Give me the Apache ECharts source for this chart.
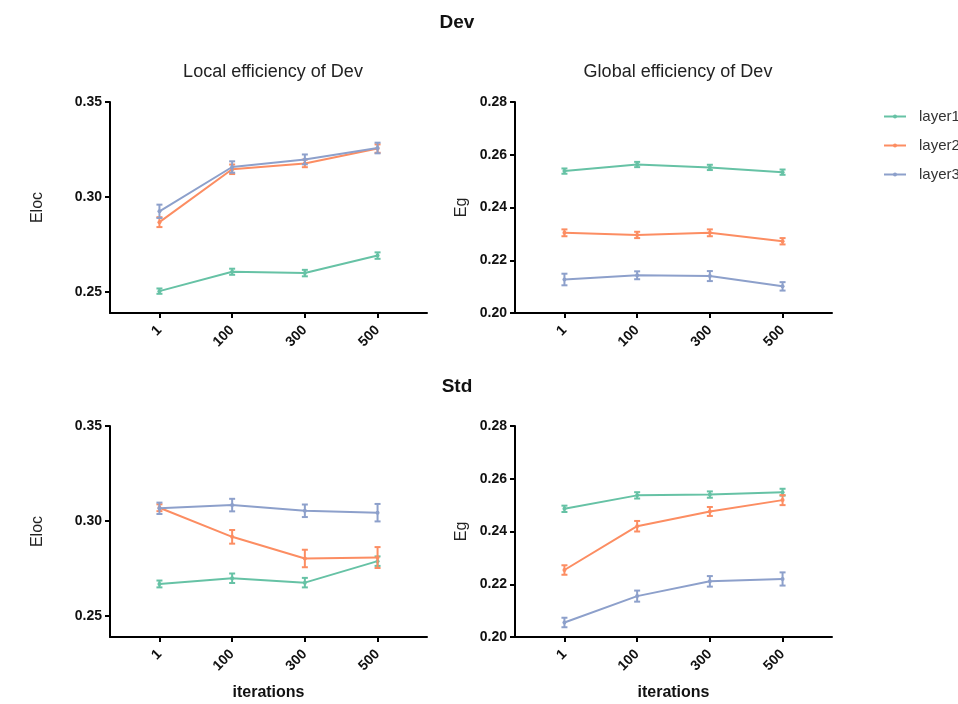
<!DOCTYPE html>
<html>
<head>
<meta charset="utf-8">
<script src="https://cdn.jsdelivr.net/npm/echarts@6/dist/echarts.min.js"></script>
<style>
  html, body { margin: 0; padding: 0; background: #ffffff; }
  #chart { width: 958px; height: 704px; }
</style>
</head>
<body>
<div id="chart"></div>
<script>
// Iteration checkpoints shown on every x axis
const iterations = ['1', '100', '300', '500'];
const layerNames = ['layer1', 'layer2', 'layer3'];
const layerColors = ['#66c2a5', '#fc8d62', '#8da0cb'];

// Dev – local efficiency (mean, error)
const devEloc1 = [0.2505, 0.2607, 0.2600, 0.2692];
const devEloc1Err = [0.0014, 0.0016, 0.0017, 0.0017];
const devEloc2 = [0.2868, 0.3146, 0.3177, 0.3255];
const devEloc2Err = [0.0026, 0.0025, 0.0020, 0.0022];
const devEloc3 = [0.2925, 0.3158, 0.3198, 0.3258];
const devEloc3Err = [0.0035, 0.0030, 0.0026, 0.0028];

// Dev – global efficiency
const devEg1 = [0.2538, 0.2563, 0.2552, 0.2534];
const devEg1Err = [0.0010, 0.0010, 0.0010, 0.0010];
const devEg2 = [0.2304, 0.2296, 0.2304, 0.2272];
const devEg2Err = [0.0013, 0.0012, 0.0013, 0.0012];
const devEg3 = [0.2127, 0.2143, 0.2140, 0.2101];
const devEg3Err = [0.0022, 0.0015, 0.0019, 0.0016];

// Std – local efficiency
const stdEloc1 = [0.2669, 0.2699, 0.2676, 0.2789];
const stdEloc1Err = [0.0018, 0.0025, 0.0025, 0.0025];
const stdEloc2 = [0.3070, 0.2917, 0.2803, 0.2808];
const stdEloc2Err = [0.0018, 0.0036, 0.0046, 0.0055];
const stdEloc3 = [0.3067, 0.3084, 0.3054, 0.3044];
const stdEloc3Err = [0.0030, 0.0033, 0.0033, 0.0046];

// Std – global efficiency
const stdEg1 = [0.2486, 0.2537, 0.2540, 0.2549];
const stdEg1Err = [0.0012, 0.0012, 0.0012, 0.0013];
const stdEg2 = [0.2254, 0.2420, 0.2476, 0.2519];
const stdEg2Err = [0.0018, 0.0020, 0.0017, 0.0019];
const stdEg3 = [0.2055, 0.2155, 0.2211, 0.2220];
const stdEg3Err = [0.0018, 0.0021, 0.0020, 0.0025];

// Y axis tick values
const elocTicks = [0.25, 0.30, 0.35];
const egTicks = [0.20, 0.22, 0.24, 0.26, 0.28];

const FONT = 'Liberation Sans, Arial, Helvetica, sans-serif';

const panels = [
  { means: [devEloc1, devEloc2, devEloc3], errs: [devEloc1Err, devEloc2Err, devEloc3Err],
    left: 110, top: 102, yName: 'Eloc', ticks: elocTicks, yMin: 0.239, yMax: 0.35, nameGap: 64, xName: '' },
  { means: [devEg1, devEg2, devEg3], errs: [devEg1Err, devEg2Err, devEg3Err],
    left: 515, top: 102, yName: 'Eg', ticks: egTicks, yMin: 0.20, yMax: 0.28, nameGap: 45, xName: '' },
  { means: [stdEloc1, stdEloc2, stdEloc3], errs: [stdEloc1Err, stdEloc2Err, stdEloc3Err],
    left: 110, top: 426, yName: 'Eloc', ticks: elocTicks, yMin: 0.239, yMax: 0.35, nameGap: 64, xName: 'iterations' },
  { means: [stdEg1, stdEg2, stdEg3], errs: [stdEg1Err, stdEg2Err, stdEg3Err],
    left: 515, top: 426, yName: 'Eg', ticks: egTicks, yMin: 0.20, yMax: 0.28, nameGap: 45, xName: 'iterations' }
];

const axisLine = { show: true, onZero: false, lineStyle: { color: '#000', width: 2 } };
const axisTick = { show: true, length: 5, lineStyle: { color: '#000', width: 2 } };

const grids = [], xAxes = [], yAxes = [], series = [];
const tickIdx = iterations.map((_, i) => i);

panels.forEach((p, k) => {
  grids.push({ left: p.left, top: p.top, width: 317, height: 211, containLabel: false });
  xAxes.push({
    type: 'value', gridIndex: k, min: -0.68, max: 3.68,
    axisLine, splitLine: { show: false },
    axisTick: Object.assign({ customValues: tickIdx }, axisTick),
    axisLabel: {
      customValues: tickIdx, rotate: 45, margin: 15,
      fontFamily: FONT, fontSize: 14, fontWeight: 'bold', color: '#111',
      formatter: v => iterations[Math.round(v)]
    },
    name: p.xName, nameLocation: 'middle', nameGap: 48,
    nameTextStyle: { fontFamily: FONT, fontSize: 16, fontWeight: 'bold', color: '#111' }
  });
  yAxes.push({
    type: 'value', gridIndex: k, min: p.yMin, max: p.yMax,
    axisLine, splitLine: { show: false },
    axisTick: Object.assign({ customValues: p.ticks }, axisTick),
    axisLabel: {
      customValues: p.ticks, margin: 8,
      fontFamily: FONT, fontSize: 14, fontWeight: 'bold', color: '#111',
      formatter: v => v.toFixed(2)
    },
    name: p.yName, nameLocation: 'middle', nameGap: p.nameGap, nameRotate: 90,
    nameTextStyle: { fontFamily: FONT, fontSize: 16, color: '#222' }
  });

  layerNames.forEach((name, j) => {
    const color = layerColors[j];
    series.push({
      type: 'line', name, xAxisIndex: k, yAxisIndex: k,
      data: p.means[j].map((v, i) => [i, v]),
      symbol: 'circle', symbolSize: 4, showSymbol: true,
      lineStyle: { color, width: 2 }, itemStyle: { color },
      z: 3 + j, animation: false
    });
    series.push({
      type: 'custom', name: name + ' error', xAxisIndex: k, yAxisIndex: k,
      data: p.means[j].map((v, i) => [i, v - p.errs[j][i], v + p.errs[j][i]]),
      encode: { x: 0, y: [1, 2] },
      z: 3 + j, animation: false, silent: true,
      renderItem: (params, api) => {
        const x = api.value(0);
        const lo = api.coord([x, api.value(1)]);
        const hi = api.coord([x, api.value(2)]);
        const w = 3;
        const style = { stroke: color, lineWidth: 2 };
        return {
          type: 'group',
          children: [
            { type: 'line', shape: { x1: lo[0], y1: lo[1], x2: hi[0], y2: hi[1] }, style },
            { type: 'line', shape: { x1: lo[0] - w, y1: lo[1], x2: lo[0] + w, y2: lo[1] }, style },
            { type: 'line', shape: { x1: hi[0] - w, y1: hi[1], x2: hi[0] + w, y2: hi[1] }, style }
          ]
        };
      }
    });
  });
});

const chart = echarts.init(document.getElementById('chart'), null, { renderer: 'canvas' });
chart.setOption({
  backgroundColor: '#ffffff',
  animation: false,
  title: [
    { text: 'Dev', left: 452, top: 8, textAlign: 'center',
      textStyle: { fontFamily: FONT, fontSize: 19, fontWeight: 'bold', color: '#111' } },
    { text: 'Local efficiency of Dev', left: 268, top: 58, textAlign: 'center',
      textStyle: { fontFamily: FONT, fontSize: 18, fontWeight: 'normal', color: '#222' } },
    { text: 'Global efficiency of Dev', left: 673, top: 58, textAlign: 'center',
      textStyle: { fontFamily: FONT, fontSize: 18, fontWeight: 'normal', color: '#222' } },
    { text: 'Std', left: 452, top: 372, textAlign: 'center',
      textStyle: { fontFamily: FONT, fontSize: 19, fontWeight: 'bold', color: '#111' } }
  ],
  legend: {
    data: layerNames, orient: 'vertical', left: 878, top: 104,
    itemWidth: 22, itemHeight: 5, itemGap: 14,
    textStyle: { fontFamily: FONT, fontSize: 15, color: '#333', padding: [0, 0, 0, 8] }
  },
  grid: grids, xAxis: xAxes, yAxis: yAxes, series
});
</script>
</body>
</html>
